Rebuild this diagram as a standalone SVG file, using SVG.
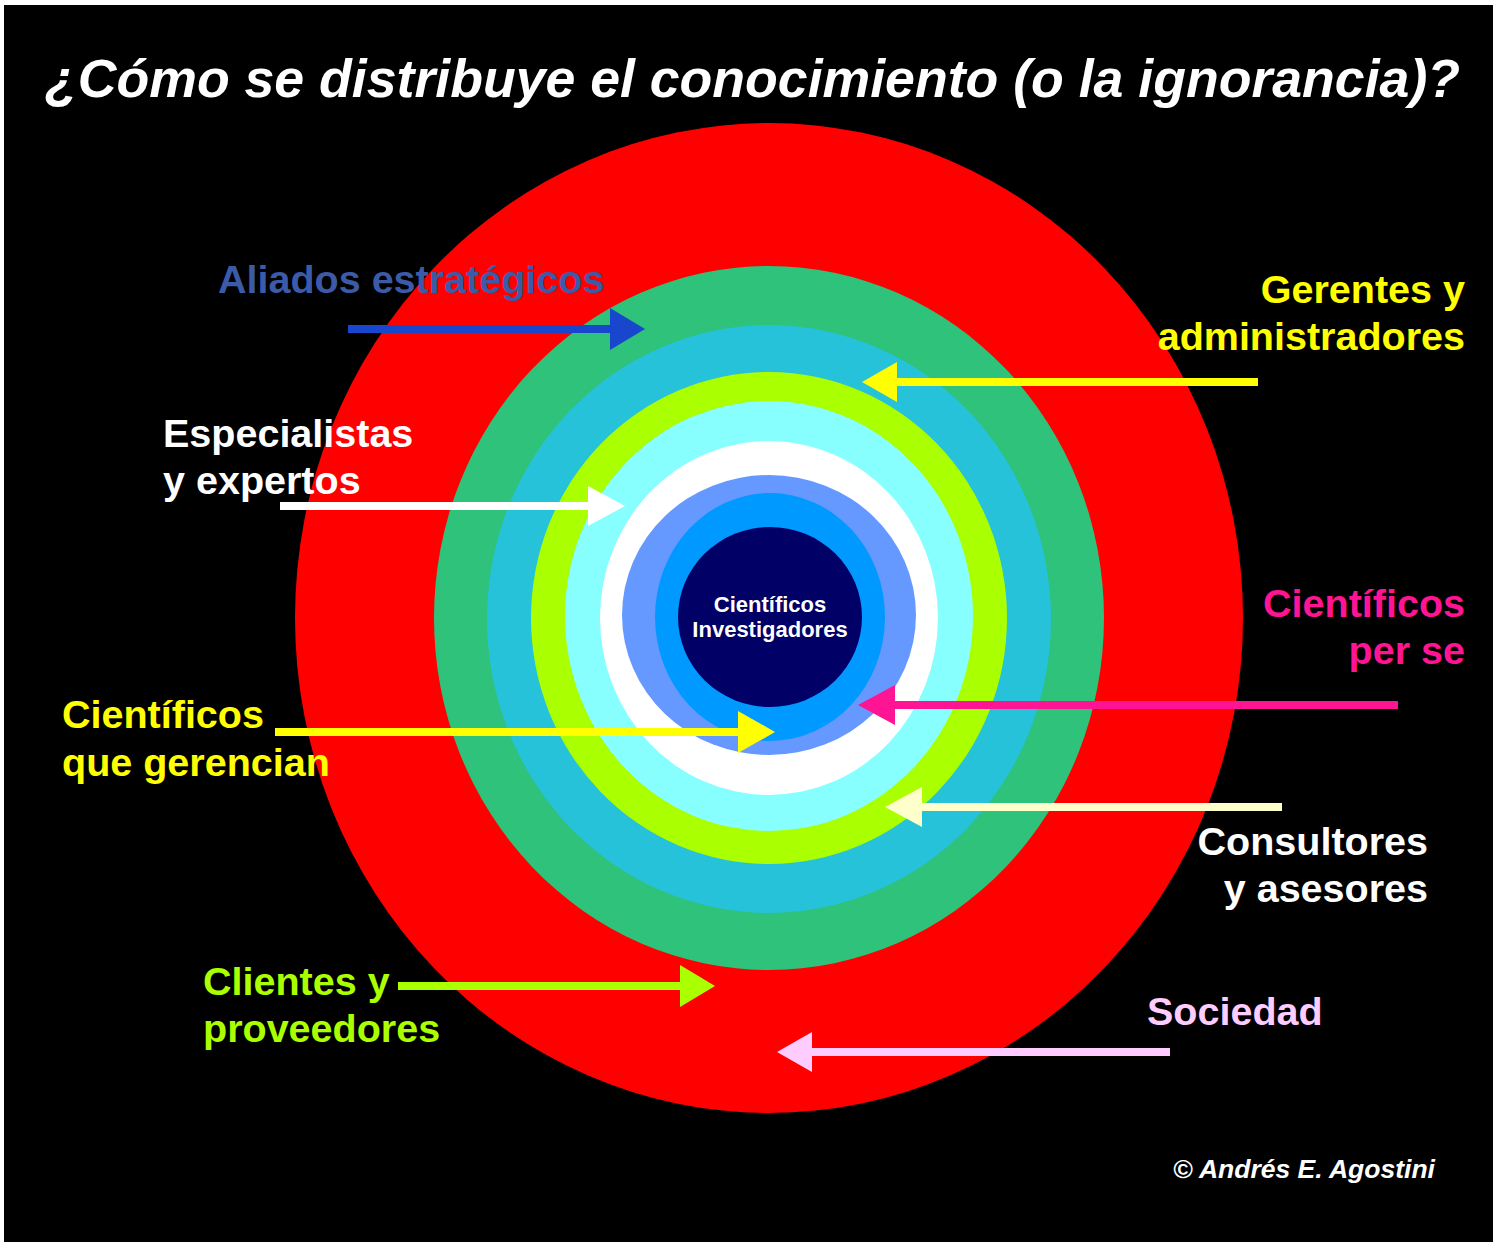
<svg xmlns="http://www.w3.org/2000/svg" width="1498" height="1247" viewBox="0 0 1498 1247">
  <style>
    .lbl { font-family: "Liberation Sans", Arial, sans-serif; font-weight: bold; font-size: 39.5px; }
    .title { font-family: "Liberation Sans", Arial, sans-serif; font-weight: bold; font-style: italic; font-size: 54px; fill: #ffffff; }
    .copy { font-family: "Liberation Sans", Arial, sans-serif; font-weight: bold; font-style: italic; font-size: 26.5px; fill: #ffffff; }
    .core { font-family: "Liberation Sans", Arial, sans-serif; font-weight: bold; font-size: 22px; fill: #ffffff; }
    .end { text-anchor: end; }
  </style>
  <rect x="0" y="0" width="1498" height="1247" fill="#ffffff"/>
  <rect x="4" y="5" width="1489" height="1237" fill="#000000"/>

  <text class="title" x="45" y="97" textLength="1415" lengthAdjust="spacingAndGlyphs">¿Cómo se distribuye el conocimiento (o la ignorancia)?</text>

  <g id="rings">
    <ellipse cx="769" cy="618" rx="474" ry="495" fill="#ff0000"/>
    <ellipse cx="769" cy="618" rx="335" ry="352" fill="#2ec27a"/>
    <ellipse cx="769" cy="619" rx="282" ry="294" fill="#26c2d9"/>
    <ellipse cx="769" cy="618" rx="238" ry="246" fill="#aaff00"/>
    <ellipse cx="769" cy="616" rx="204" ry="215" fill="#88ffff"/>
    <ellipse cx="769" cy="618" rx="169" ry="177" fill="#ffffff"/>
    <ellipse cx="769" cy="615" rx="147" ry="140" fill="#6699ff"/>
    <ellipse cx="770" cy="617" rx="115" ry="124" fill="#0099ff"/>
    <ellipse cx="770" cy="617" rx="92" ry="90" fill="#000066"/>
  </g>

  <g id="node-core">
    <text class="core" x="770" y="612" text-anchor="middle">Científicos</text>
    <text class="core" x="770" y="637" text-anchor="middle">Investigadores</text>
  </g>

  <g id="connectors">
    <g id="arrow-aliados" fill="#1846cc">
      <rect x="348" y="325" width="264" height="8"/>
      <polygon points="610,308 645,329 610,350"/>
    </g>
    <g id="arrow-gerentes" fill="#ffff00">
      <rect x="895" y="378" width="363" height="8"/>
      <polygon points="897,362 862,382 897,402"/>
    </g>
    <g id="arrow-especialistas" fill="#ffffff">
      <rect x="280" y="502" width="310" height="8"/>
      <polygon points="588,486 625,506 588,526"/>
    </g>
    <g id="arrow-perse" fill="#ff1493">
      <rect x="893" y="701" width="505" height="8"/>
      <polygon points="895,685 858,705 895,725"/>
    </g>
    <g id="arrow-gerencian" fill="#ffff00">
      <rect x="275" y="728" width="465" height="8"/>
      <polygon points="738,711 775,732 738,753"/>
    </g>
    <g id="arrow-consultores" fill="#ffffcc">
      <rect x="920" y="803" width="362" height="8"/>
      <polygon points="922,787 885,807 922,827"/>
    </g>
    <g id="arrow-clientes" fill="#aaff00">
      <rect x="398" y="982" width="284" height="8"/>
      <polygon points="680,965 715,986 680,1007"/>
    </g>
    <g id="arrow-sociedad" fill="#ffccff">
      <rect x="810" y="1048" width="360" height="8"/>
      <polygon points="812,1032 777,1052 812,1072"/>
    </g>
  </g>

  <g id="node-aliados">
    <text class="lbl" x="218" y="293" fill="#3b5ba9">Aliados estratégicos</text>
  </g>
  <g id="node-gerentes">
    <text class="lbl end" x="1465" y="303" fill="#ffff00">Gerentes y</text>
    <text class="lbl end" x="1465" y="350" fill="#ffff00">administradores</text>
  </g>
  <g id="node-especialistas">
    <text class="lbl" x="163" y="447" fill="#ffffff">Especialistas</text>
    <text class="lbl" x="163" y="494" fill="#ffffff">y expertos</text>
  </g>
  <g id="node-perse">
    <text class="lbl end" x="1465" y="617" fill="#ff1493">Científicos</text>
    <text class="lbl end" x="1465" y="664" fill="#ff1493">per se</text>
  </g>
  <g id="node-gerencian">
    <text class="lbl" x="62" y="728" fill="#ffff00">Científicos</text>
    <text class="lbl" x="62" y="776" fill="#ffff00">que gerencian</text>
  </g>
  <g id="node-consultores">
    <text class="lbl end" x="1428" y="855" fill="#ffffff">Consultores</text>
    <text class="lbl end" x="1428" y="902" fill="#ffffff">y asesores</text>
  </g>
  <g id="node-clientes">
    <text class="lbl" x="203" y="995" fill="#aaff00">Clientes y</text>
    <text class="lbl" x="203" y="1042" fill="#aaff00">proveedores</text>
  </g>
  <g id="node-sociedad">
    <text class="lbl" x="1147" y="1025" fill="#ffccff">Sociedad</text>
  </g>

  <text class="copy" x="1173" y="1178">© Andrés E. Agostini</text>
</svg>
